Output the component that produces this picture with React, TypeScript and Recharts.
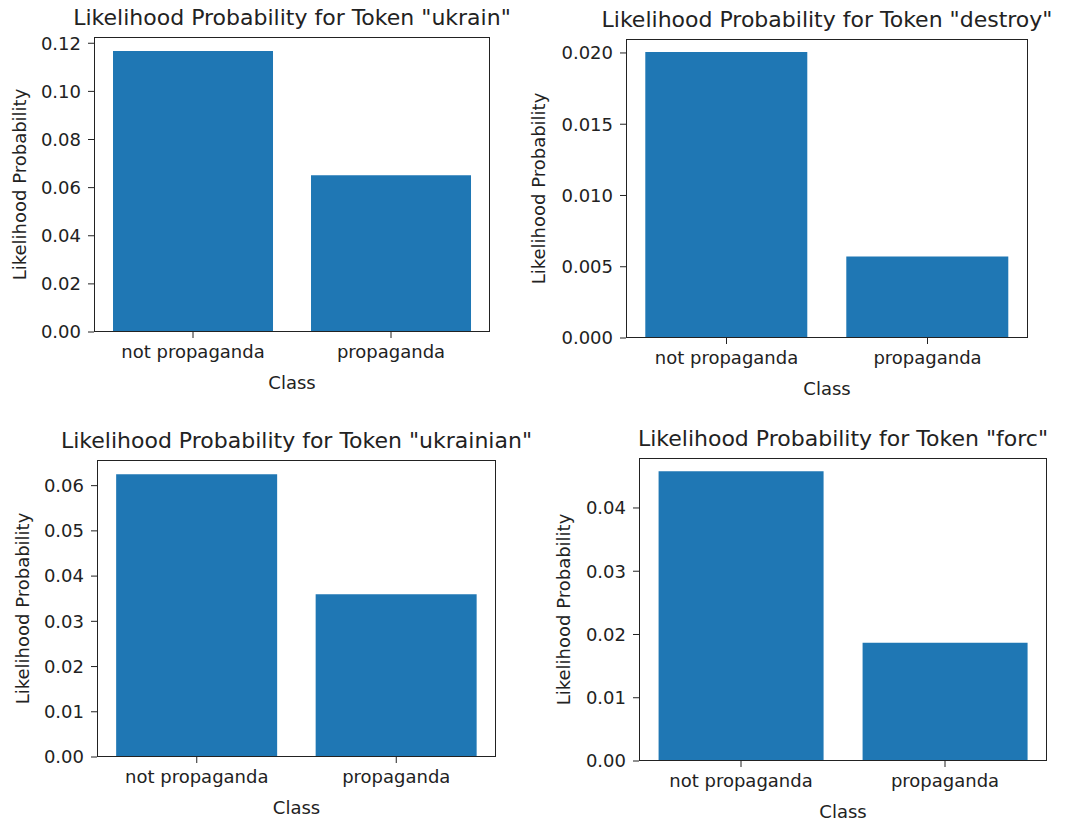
import { BarChart, Bar, XAxis, YAxis } from 'recharts'

const classes = ['not propaganda', 'propaganda']
const tokens = ['ukrain', 'destroy', 'ukrainian', 'forc']

const ukrainValues = [0.1168, 0.0651]
const destroyValues = [0.02007, 0.00571]
const ukrainianValues = [0.0625, 0.036]
const forcValues = [0.0458, 0.0187]

const ukrainTicks = [0, 0.02, 0.04, 0.06, 0.08, 0.1, 0.12]
const destroyTicks = [0, 0.005, 0.01, 0.015, 0.02]
const ukrainianTicks = [0, 0.01, 0.02, 0.03, 0.04, 0.05, 0.06]
const forcTicks = [0, 0.01, 0.02, 0.03, 0.04]

const yMax = [0.1226, 0.02098, 0.06567, 0.0479]

const FONT = 'DejaVu Sans, sans-serif'
const INK = '#222'
const BLUE = '#1f77b4'
const YW = 100
const MT = 40
const MR = 10
const XH = 62

type Box = { l: number; t: number; r: number; b: number }

// plot-area rectangles of the four subplots
const boxes: Box[] = [
  { l: 94, t: 37, r: 490, b: 332 },
  { l: 626, t: 39, r: 1028, b: 338 },
  { l: 97, t: 460, r: 496, b: 757 },
  { l: 639, t: 458, r: 1047, b: 761 },
]
const yLabelGap = [74, 87, 74, 75]

type PanelProps = {
  token: string
  values: number[]
  ticks: number[]
  max: number
  digits: number
  box: Box
  labelGap: number
}

function Panel({ token, values, ticks, max, digits, box, labelGap }: PanelProps) {
  const data = classes.map((c, i) => ({ cls: c, value: values[i] }))
  const w = box.r - box.l + YW + MR
  const h = box.b - box.t + MT + XH
  const tick = { fill: INK, fontSize: 18, fontFamily: FONT }
  return (
    <>
      <div style={{ position: 'absolute', left: box.l - YW, top: box.t - MT }}>
        <BarChart width={w} height={h} data={data} margin={{ top: MT, right: MR, left: 0, bottom: 0 }}
          barCategoryGap="9.6%">
          <XAxis dataKey="cls" height={XH} tick={tick} tickSize={6} tickMargin={7}
            tickLine={{ stroke: INK }} axisLine={false}
            label={{ value: 'Class', position: 'insideBottom', offset: 5, fill: INK, fontSize: 18, fontFamily: FONT }} />
          <YAxis type="number" domain={[0, max]} ticks={ticks} width={YW} tick={tick} tickSize={6} tickMargin={7}
            tickLine={{ stroke: INK }} axisLine={false} tickFormatter={(v: number) => v.toFixed(digits)}
            label={{ value: 'Likelihood Probability', angle: -90, position: 'center', dx: -(labelGap - YW / 2),
              fill: INK, fontSize: 18, fontFamily: FONT }} />
          <Bar dataKey="value" fill={BLUE} isAnimationActive={false} />
        </BarChart>
      </div>
      <div style={{ position: 'absolute', left: box.l, top: box.t, width: box.r - box.l, height: box.b - box.t,
        border: `1.3px solid ${INK}`, boxSizing: 'border-box', pointerEvents: 'none' }} />
      <svg width={box.r - box.l + 200} height={40} style={{ position: 'absolute', left: box.l - 100, top: box.t - 40, overflow: 'visible' }}>
        <text x={(box.r - box.l) / 2 + 100} y={28} textAnchor="middle" fill={INK} fontSize={22} fontFamily={FONT}>
          {`Likelihood Probability for Token "${token}"`}
        </text>
      </svg>
    </>
  )
}

export default function App() {
  const series = [ukrainValues, destroyValues, ukrainianValues, forcValues]
  const tickSets = [ukrainTicks, destroyTicks, ukrainianTicks, forcTicks]
  const digits = [2, 3, 2, 2]
  return (
    <div style={{ position: 'absolute', left: 0, top: 0, width: 1069, height: 823, background: '#fff', overflow: 'hidden' }}>
      {tokens.map((t, i) => (
        <Panel key={t} token={t} values={series[i]} ticks={tickSets[i]} max={yMax[i]} digits={digits[i]}
          box={boxes[i]} labelGap={yLabelGap[i]} />
      ))}
    </div>
  )
}
